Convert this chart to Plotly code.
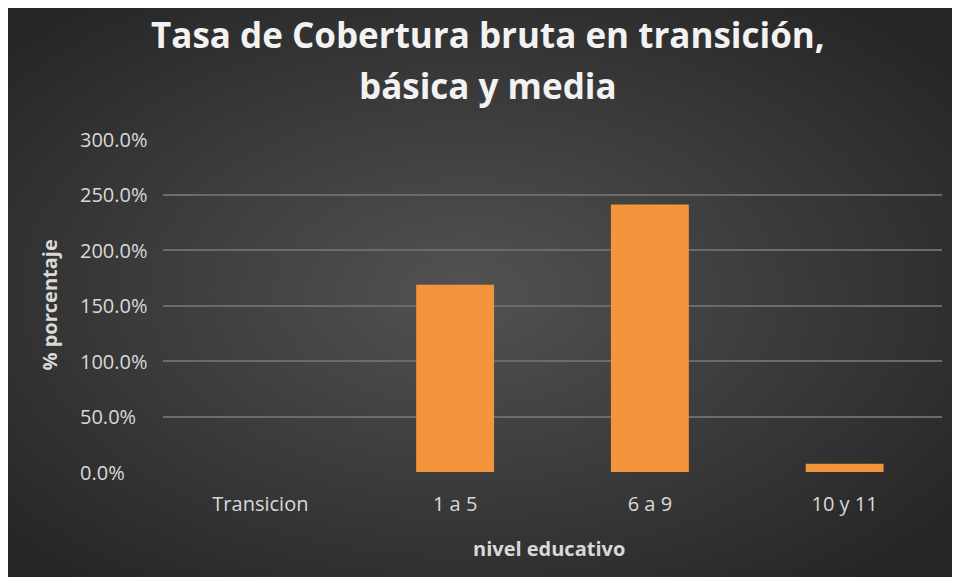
import base64
import plotly.graph_objects as go

# ---- data ----
categories = ["Transicion", "1 a 5", "6 a 9", "10 y 11"]
values = [0.0, 1.687, 2.411, 0.075]
y_tick_vals = [0.0, 0.5, 1.0, 1.5, 2.0, 2.5, 3.0]
y_tick_text = ["0.0%", "50.0%", "100.0%", "150.0%", "200.0%", "250.0%", "300.0%"]
title_lines = ["Tasa de Cobertura bruta en transición,", "básica y media"]
x_title = "nivel educativo"
y_title = "% porcentaje"

# ---- geometry (figure pixels; the page adds an 8px body margin) ----
OFF = 8
W, H = 960 - OFF, 577 - OFF
L, R, T, B = 163 - OFF, 18, 139 - OFF, 105
pw, ph = W - L - R, H - T - B


def px_x(p):  # page pixel -> paper x
    return (p - OFF - L) / pw


def px_y(p):  # page pixel -> paper y
    return (H - B - (p - OFF)) / ph


# radial gradient background as svg image
svg = (
    f'<svg xmlns="http://www.w3.org/2000/svg" width="{W}" height="{H}">'
    '<defs><radialGradient id="g" cx="48%" cy="50%" r="65%">'
    '<stop offset="0%" stop-color="#525252"/>'
    '<stop offset="100%" stop-color="#262626"/>'
    '</radialGradient></defs>'
    f'<rect width="{W}" height="{H}" fill="url(#g)"/></svg>'
)
bg_src = "data:image/svg+xml;base64," + base64.b64encode(svg.encode()).decode()

fig = go.Figure()
fig.add_trace(
    go.Bar(
        x=categories,
        y=values,
        width=0.4,
        marker=dict(color="#f4943c", line=dict(width=0)),
        hoverinfo="x+y",
    )
)

font_lbl = dict(family="Open Sans", size=20, color="#d9d9d9")
annotations = []
for v, t in zip(y_tick_vals, y_tick_text):
    annotations.append(
        dict(
            x=px_x(78), xref="paper", xanchor="left",
            y=v, yref="y", yanchor="middle",
            text=t, showarrow=False, font=font_lbl,
        )
    )
annotations.append(
    dict(
        x=px_x(49), xref="paper", xanchor="center",
        y=0.5, yref="paper", yanchor="middle",
        text=y_title, textangle=-90, showarrow=False,
        font=dict(font_lbl, weight="bold"),
    )
)
annotations.append(
    dict(
        x=px_x(549), xref="paper", xanchor="center",
        y=px_y(548), yref="paper", yanchor="middle",
        text=x_title, showarrow=False,
        font=dict(font_lbl, weight="bold"),
    )
)
for line, ypix in zip(title_lines, [35, 85]):
    annotations.append(
        dict(
            x=px_x(488), xref="paper", xanchor="center",
            y=px_y(ypix), yref="paper", yanchor="middle",
            text=line, showarrow=False,
            font=dict(family="Open Sans", size=35, color="#f2f2f2", weight="bold"),
        )
    )

fig.update_layout(
    width=W, height=H,
    margin=dict(l=L, r=R, t=T, b=B, pad=0),
    paper_bgcolor="#2e2e2e",
    plot_bgcolor="rgba(0,0,0,0)",
    showlegend=False,
    images=[dict(
        source=bg_src, xref="paper", yref="paper",
        x=-L / pw, y=(H - B) / ph, sizex=W / pw, sizey=H / ph,
        xanchor="left", yanchor="top", sizing="stretch", layer="below",
    )],
    annotations=annotations,
    xaxis=dict(
        showgrid=False, zeroline=False, showline=False, ticks="",
        tickfont=font_lbl,
        ticklabelstandoff=18,
    ),
    yaxis=dict(
        range=[0, 3.0], tickvals=y_tick_vals[1:], showticklabels=False,
        showgrid=True, gridcolor="#6b6b6b", gridwidth=1.5,
        zeroline=False, showline=False, ticks="",
    ),
)

fig.write_html("out.html")
